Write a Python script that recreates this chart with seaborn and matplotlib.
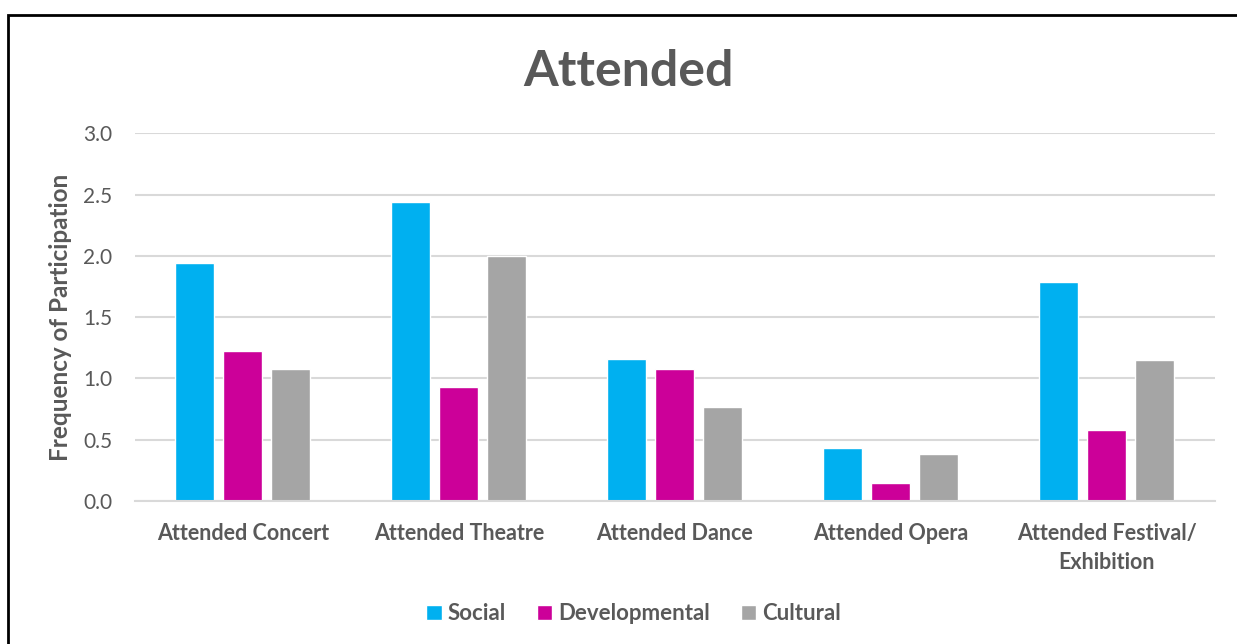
import matplotlib
matplotlib.use('Agg')
import numpy as np
import pandas as pd
import matplotlib.pyplot as plt
import seaborn as sns
from matplotlib.patches import Rectangle

categories = ['Attended Concert', 'Attended Theatre', 'Attended Dance',
              'Attended Opera', 'Attended Festival/\nExhibition']
groups = ['Social', 'Developmental', 'Cultural']
social = [1.94, 2.44, 1.16, 0.43, 1.79]
developmental = [1.22, 0.93, 1.08, 0.15, 0.58]
cultural = [1.08, 2.00, 0.77, 0.38, 1.15]
colors = ['#00B0F0', '#CC0099', '#A5A5A5']
yticks = [0.0, 0.5, 1.0, 1.5, 2.0, 2.5, 3.0]

df = pd.DataFrame({'category': categories * 3,
                   'group': [g for g in groups for _ in categories],
                   'value': social + developmental + cultural})

sns.set_theme(style='white')
plt.rcParams['font.family'] = ['Lato', 'DejaVu Sans']
text_color = '#595959'

fig = plt.figure(figsize=(12.37, 6.44), dpi=100)
ax = fig.add_axes([0.109, 0.222, 0.873, 0.571])

sns.barplot(data=df, x='category', y='value', hue='group', palette=colors,
            order=categories, hue_order=groups, width=0.667, gap=0.19,
            saturation=1, ax=ax, legend=True)

ax.set_ylim(0, 3.0)
ax.set_yticks(yticks)
ax.set_yticklabels(['%.1f' % t for t in yticks], fontsize=15, color=text_color)
ax.set_xlim(-0.5, len(categories) - 0.5)
ax.set_xticks(range(len(categories)))
ax.set_xticklabels(categories, fontsize=15.5, fontweight='bold', color=text_color,
                   linespacing=1.45)
ax.tick_params(axis='x', length=0, pad=16)
ax.tick_params(axis='y', length=0, pad=16)
ax.grid(axis='y', color='#D9D9D9', linewidth=1.5)
ax.set_axisbelow(True)
for s in ['top', 'right', 'left']:
    ax.spines[s].set_visible(False)
ax.spines['bottom'].set_color('#D9D9D9')
ax.spines['bottom'].set_linewidth(1.5)

ax.set_xlabel('')
ax.set_ylabel('Frequency of Participation', fontsize=17.5, fontweight='bold',
              color=text_color, labelpad=8)
fig.text(0.508, 0.889, 'Attended', ha='center', va='center', fontsize=36,
         fontweight='bold', color=text_color)

handles, labels = ax.get_legend_handles_labels()
ax.legend(handles, labels, loc='center', bbox_to_anchor=(0.512, 0.047),
          bbox_transform=fig.transFigure, ncol=3, frameon=False,
          prop={'size': 16, 'weight': 'bold'}, labelcolor=text_color,
          handlelength=0.7, handleheight=0.7, handletextpad=0.25,
          columnspacing=1.4)

fig.patches.append(Rectangle((8 / 1237, -0.1), 1.1, 1 - 15 / 644 + 0.1,
                             transform=fig.transFigure, fill=False,
                             edgecolor='black', linewidth=2))

fig.savefig('out.png', dpi=100)
